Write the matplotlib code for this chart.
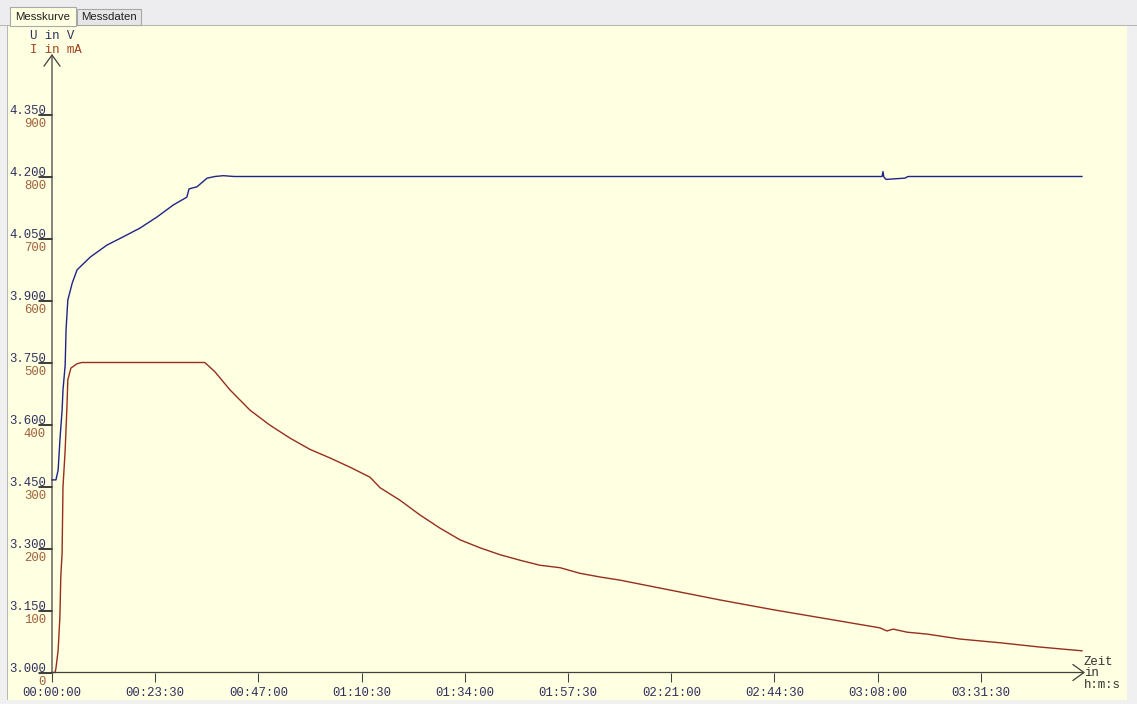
import matplotlib
matplotlib.use('Agg')
import matplotlib.pyplot as plt
from matplotlib.patches import Rectangle
from matplotlib.transforms import offset_copy

plt.rcParams['font.family'] = 'Liberation Mono'
plt.rcParams['font.size'] = 8.9

# Messkurve: Zeit in Minuten, Spannung in V, Strom in mA
t_u = [0.0, 0.9, 1.4, 1.8, 2.3, 2.5, 3.0, 3.2, 3.6, 4.6,
       5.7, 8.7, 12.5, 16.2, 20.0, 23.9, 27.6, 30.7, 31.2, 33.0,
       35.3, 37.1, 39.0, 41.5, 189.0, 189.2, 189.4, 189.9, 194.2, 194.9,
       234.5]
u_v = [3.466, 3.466, 3.490, 3.562, 3.635, 3.683, 3.744, 3.829, 3.901, 3.942,
       3.974, 4.005, 4.034, 4.054, 4.075, 4.102, 4.131, 4.150, 4.170, 4.175,
       4.196, 4.200, 4.202, 4.200, 4.200, 4.212, 4.199, 4.193, 4.196, 4.200,
       4.200]

t_i = [0.0, 0.7, 0.9, 1.4, 1.8, 2.0, 2.3, 2.5, 3.0, 3.4,
       3.6, 4.3, 5.7, 6.8, 34.8, 37.1, 40.5, 45.1, 49.6, 54.2,
       58.7, 63.3, 67.9, 72.4, 74.7, 79.2, 83.8, 88.3, 92.9, 97.5,
       102.0, 106.6, 111.1, 115.7, 120.2, 124.8, 129.3, 140.7, 152.1, 164.4,
       179.4, 188.5, 190.1, 191.5, 194.7, 199.2, 206.7, 215.8, 225.0, 234.5]
i_ma = [0, 0, 7, 36, 90, 154, 193, 299, 359, 428,
        472, 491, 498, 500, 500, 485, 456, 423, 399, 378,
        360, 346, 331, 315, 298, 278, 254, 233, 214, 201,
        190, 181, 173, 169, 160, 154, 149, 133, 117, 101,
        83, 72, 67, 70, 65, 62, 54, 48, 41, 35]

u_ticks = [3.000, 3.150, 3.300, 3.450, 3.600, 3.750, 3.900, 4.050, 4.200, 4.350]
i_ticks = [0, 100, 200, 300, 400, 500, 600, 700, 800, 900]
t_ticks = [0, 23.5, 47, 70.5, 94, 117.5, 141, 164.5, 188, 211.5]
t_labels = ['00:00:00', '00:23:30', '00:47:00', '01:10:30', '01:34:00',
            '01:57:30', '02:21:00', '02:44:30', '03:08:00', '03:31:30']

W, H = 1137, 704
fig = plt.figure(figsize=(W / 100, H / 100), dpi=100)
fig.patch.set_facecolor('#f0f0f0')


def box(x, y, w, h, **kw):
    # rectangle in pixel coords (top-left origin)
    r = Rectangle((x / W, 1 - (y + h) / H), w / W, h / H,
                  transform=fig.transFigure, zorder=-1, **kw)
    fig.add_artist(r)


# tab bar + panel
box(0, 0, W, 25, facecolor='#ededf0', edgecolor='none')
box(0, 24.5, W, 1.5, facecolor='#b4b4b4', edgecolor='none')
box(8, 26, 1119, 674, facecolor='#ffffe1', edgecolor='none')
box(7, 26, 1, 674, facecolor='#b8b8b8', edgecolor='none')
box(10, 7, 66, 19, facecolor='#ffffe1', edgecolor='#a8a8a8', lw=0.8)
box(77, 9, 64, 16, facecolor='#e6e6e6', edgecolor='#a8a8a8', lw=0.8)
fig.text(43 / W, 1 - 17 / H, 'Messkurve', family='Liberation Sans',
         fontsize=8.2, ha='center', va='center', color='#202020')
fig.text(109 / W, 1 - 17 / H, 'Messdaten', family='Liberation Sans',
         fontsize=8.2, ha='center', va='center', color='#202020')

x0, x1, y0, y1 = 52, 1085, 672.5, 54
ax = fig.add_axes([x0 / W, 1 - y0 / H, (x1 - x0) / W, (y0 - y1) / H])
ax.set_facecolor('none')
i_top = (y0 - y1) * 100 / 62.0
ax.set_xlim(0, (x1 - x0) / 4.392)
ax.set_ylim(0, i_top)
for s in ax.spines.values():
    s.set_visible(False)

ax2 = ax.twinx()
ax2.set_facecolor('none')
ax2.set_ylim(3.0, 3.0 + i_top * 0.15 / 100)
for s in ax2.spines.values():
    s.set_visible(False)
ax2.yaxis.tick_left()

ax.plot(t_i, i_ma, color='#962e1e', lw=1.0, clip_on=False)
ax2.plot(t_u, u_v, color='#1e2488', lw=1.0, clip_on=False)

axc = '#404040'
arrow = dict(arrowstyle='->,head_length=0.8,head_width=0.58', color=axc,
             lw=0.9, shrinkA=0, shrinkB=0, mutation_scale=10)
ax.annotate('', xy=(0, 1), xytext=(0, 0), xycoords='axes fraction',
            arrowprops=arrow, annotation_clip=False)
ax.annotate('', xy=(1, 0), xytext=(0, 0), xycoords='axes fraction',
            arrowprops=arrow, annotation_clip=False)

ax.set_xticks(t_ticks)
ax.set_xticklabels(t_labels)
ax.tick_params(axis='x', length=6.5, width=0.75, color=axc, pad=4,
               labelcolor='#303060')

# y ticks: both scales share the same tick marks, labels stacked
ax.set_yticks(i_ticks)
ax.tick_params(axis='y', length=10, width=0.75, color=axc, labelleft=False)
ax2.set_yticks(u_ticks)
ax2.tick_params(axis='y', length=10, width=0.75, color=axc, labelleft=False)

tr_i = offset_copy(ax.get_yaxis_transform(), fig=fig, x=-6, y=-9.5, units='dots')
for v in i_ticks:
    ax.text(0, v, str(v), transform=tr_i, ha='right', va='center',
            color='#a0603a')
tr_u = offset_copy(ax2.get_yaxis_transform(), fig=fig, x=-6, y=3.5, units='dots')
for v in u_ticks:
    ax2.text(0, v, '%.3f' % v, transform=tr_u, ha='right', va='center',
             color='#303060')

fig.text(30 / W, 1 - 36 / H, 'U in V', color='#303060', va='center')
fig.text(30 / W, 1 - 50 / H, 'I in mA', color='#a04020', va='center')
fig.text(1084 / W, 1 - 662 / H, 'Zeit', color='#303030', va='center')
fig.text(1084 / W, 1 - 673 / H, 'in', color='#303030', va='center')
fig.text(1084 / W, 1 - 685 / H, 'h:m:s', color='#303030', va='center')

fig.savefig('out.png', dpi=100, facecolor=fig.get_facecolor())
